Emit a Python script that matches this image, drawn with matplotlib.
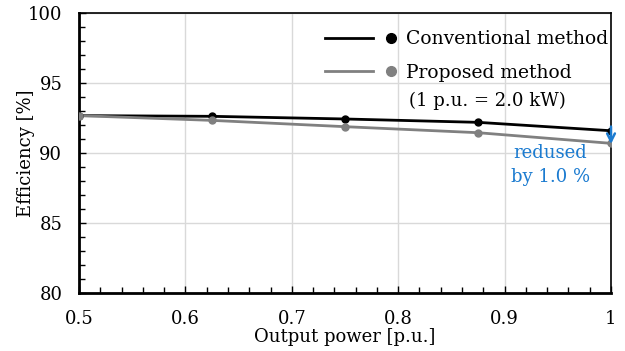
import numpy as np
import matplotlib.pyplot as plt
from matplotlib.lines import Line2D
from matplotlib.legend_handler import HandlerTuple

# output power [p.u.] and efficiency [%]
power = [0.5, 0.625, 0.75, 0.875, 1.0]
eff_conv = [92.67, 92.62, 92.43, 92.19, 91.59]
eff_prop = [92.67, 92.33, 91.88, 91.45, 90.69]

plt.rcParams['font.family'] = ['DejaVu Serif']
plt.rcParams['font.size'] = 12

fig = plt.figure(figsize=(6.25, 3.51), dpi=100)
ax = fig.add_axes([0.1264, 0.1652, 0.8512, 0.7978])

ax.plot(power, eff_conv, color='black', lw=2, zorder=3)
ax.plot(power, eff_conv, 'o', color='black', ms=5, zorder=4)
ax.plot(power, eff_prop, color='#808080', lw=2, zorder=3)
ax.plot(power, eff_prop, 'o', color='#808080', ms=5, zorder=4)

ax.set_xlim(0.5, 1.0)
ax.set_ylim(80, 100)
ax.set_xticks([0.5, 0.6, 0.7, 0.8, 0.9, 1.0])
ax.set_xticklabels(['0.5', '0.6', '0.7', '0.8', '0.9', '1'])
ax.set_yticks([80, 85, 90, 95, 100])
ax.set_xticks(np.arange(0.5, 1.0001, 0.02), minor=True)
ax.set_yticks(np.arange(80, 100.01, 1), minor=True)
ax.tick_params(which='both', direction='in', length=4, width=1, labelsize=13)
ax.tick_params(which='major', length=5)
ax.tick_params(axis='x', which='major', pad=12)
ax.tick_params(axis='y', which='major', pad=12)
ax.grid(True, which='major', color='#d9d9d9', lw=1)
ax.set_axisbelow(True)
for s in ['left', 'bottom']:
    ax.spines[s].set_linewidth(2)
for s in ['top', 'right']:
    ax.spines[s].set_linewidth(1.2)

ax.set_xlabel('Output power [p.u.]', fontsize=13, labelpad=0)
ax.set_ylabel('Efficiency [%]', fontsize=13, labelpad=-5)

# drop annotation
ax.annotate('', xy=(1.0, eff_prop[-1] - 0.05), xytext=(1.0, eff_conv[-1] + 0.3),
            arrowprops=dict(arrowstyle='->', color='#1b7bd0', lw=1.8,
                            mutation_scale=14, shrinkA=0, shrinkB=0),
            annotation_clip=False, zorder=5)
ax.text(0.943, 90.65, 'redused\nby 1.0 %', color='#1b7bd0', fontsize=13,
        ha='center', va='top', linespacing=1.45)

h1 = (Line2D([], [], color='black', lw=2),
      Line2D([], [], color='black', marker='o', ls='', ms=7))
h2 = (Line2D([], [], color='#808080', lw=2),
      Line2D([], [], color='#808080', marker='o', ls='', ms=7))
leg = ax.legend([h1, h2], ['Conventional method', 'Proposed method'],
                handler_map={tuple: HandlerTuple(ndivide=None, pad=-0.32)},
                loc='upper left', bbox_to_anchor=(0.4624, 0.939),
                frameon=False, fontsize=13.5, borderpad=0, borderaxespad=0,
                handlelength=4.8, handletextpad=-0.5, labelspacing=0.85)
ax.text(0.884, 93.75, '(1 p.u. = 2.0 kW)', fontsize=13, ha='center', va='center')

fig.savefig('out.png', dpi=100)
